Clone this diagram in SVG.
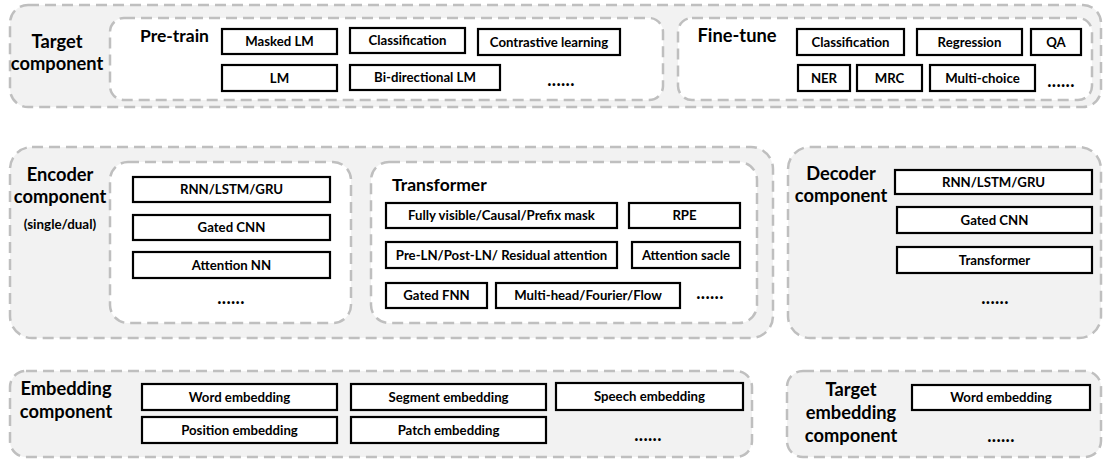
<svg xmlns="http://www.w3.org/2000/svg" width="1110" height="459" viewBox="0 0 1110 459">
<style>
.outer{fill:#f2f2f2;stroke:#bfbfbf;stroke-width:2.5;stroke-dasharray:11 6}
.inner{fill:#ffffff;stroke:#bfbfbf;stroke-width:2.5;stroke-dasharray:11 6}
.box{fill:#ffffff;stroke:#000000;stroke-width:2.2}
text{font-family:Lato,"Liberation Sans",sans-serif;font-weight:bold;fill:#000}
.t{font-size:18.3px;text-anchor:middle}
.tl{font-size:17.5px}
.b{font-size:13.2px;text-anchor:middle}
.d{font-size:18px;text-anchor:middle;letter-spacing:0.3px}
.s{font-size:13.4px;text-anchor:middle}
</style>
<g id="target-component">
<rect class="outer" x="10" y="5" width="1091" height="102" rx="18"/>
<text class="t" x="57" y="48">Target</text>
<text class="t" x="57" y="70">component</text>
</g>
<g id="pretrain">
<rect class="inner" x="110" y="18" width="553" height="82" rx="14"/>
<text class="tl" x="140" y="42">Pre-train</text>
<rect class="box" x="222" y="29" width="115" height="25"/><text class="b" x="279.5" y="46">Masked LM</text>
<rect class="box" x="350" y="28" width="115" height="25"/><text class="b" x="407.5" y="45">Classification</text>
<rect class="box" x="478" y="29" width="142" height="26"/><text class="b" x="549" y="46.5">Contrastive learning</text>
<rect class="box" x="222" y="65" width="115" height="26"/><text class="b" x="279.5" y="82.5">LM</text>
<rect class="box" x="350" y="65" width="150" height="25"/><text class="b" x="425" y="82">Bi-directional LM</text>
<text class="d" x="561" y="86">......</text>
</g>
<g id="finetune">
<rect class="inner" x="678" y="18" width="414" height="82" rx="14"/>
<text class="t" x="737" y="42">Fine-tune</text>
<rect class="box" x="797" y="29" width="107" height="26"/><text class="b" x="850.5" y="46.5">Classification</text>
<rect class="box" x="917" y="29" width="105" height="26"/><text class="b" x="969.5" y="46.5">Regression</text>
<rect class="box" x="1031" y="29" width="50" height="26"/><text class="b" x="1056" y="46.5">QA</text>
<rect class="box" x="798" y="65" width="52" height="26"/><text class="b" x="824" y="82.5">NER</text>
<rect class="box" x="857" y="65" width="65" height="26"/><text class="b" x="889.5" y="82.5">MRC</text>
<rect class="box" x="930" y="65" width="105" height="26"/><text class="b" x="982.5" y="82.5">Multi-choice</text>
<text class="d" x="1061" y="87">......</text>
</g>
<g id="encoder-component">
<rect class="outer" x="10" y="147" width="763" height="191" rx="22"/>
<text class="t" x="60" y="181">Encoder</text>
<text class="t" x="60" y="203">component</text>
<text class="s" x="60" y="229">(single/dual)</text>
</g>
<g id="encoder-basic">
<rect class="inner" x="110" y="162" width="241" height="161" rx="18"/>
<rect class="box" x="133" y="177" width="197" height="25"/><text class="b" x="231.5" y="194">RNN/LSTM/GRU</text>
<rect class="box" x="133" y="215" width="197" height="25"/><text class="b" x="231.5" y="232">Gated CNN</text>
<rect class="box" x="133" y="252" width="197" height="26"/><text class="b" x="231.5" y="269.5">Attention NN</text>
<text class="d" x="231" y="304">......</text>
</g>
<g id="transformer">
<rect class="inner" x="371" y="162" width="386" height="161" rx="18"/>
<text class="tl" x="392" y="191">Transformer</text>
<rect class="box" x="386" y="203" width="231" height="25"/><text class="b" x="501.5" y="220">Fully visible/Causal/Prefix mask</text>
<rect class="box" x="629" y="203" width="111" height="25"/><text class="b" x="684.5" y="220">RPE</text>
<rect class="box" x="386" y="242" width="231" height="26"/><text class="b" x="501.5" y="259.5">Pre-LN/Post-LN/ Residual attention</text>
<rect class="box" x="632" y="242" width="108" height="26"/><text class="b" x="686" y="259.5">Attention sacle</text>
<rect class="box" x="386" y="283" width="101" height="25"/><text class="b" x="436.5" y="300">Gated FNN</text>
<rect class="box" x="496" y="283" width="184" height="25"/><text class="b" x="588" y="300">Multi-head/Fourier/Flow</text>
<text class="d" x="710" y="299">......</text>
</g>
<g id="decoder-component">
<rect class="outer" x="788" y="147" width="313" height="191" rx="22"/>
<text class="t" x="841" y="180">Decoder</text>
<text class="t" x="841" y="202">component</text>
<rect class="box" x="895" y="170" width="197" height="24"/><text class="b" x="993.5" y="186.5">RNN/LSTM/GRU</text>
<rect class="box" x="897" y="207" width="195" height="26"/><text class="b" x="994.5" y="224.5">Gated CNN</text>
<rect class="box" x="897" y="247" width="195" height="26"/><text class="b" x="994.5" y="264.5">Transformer</text>
<text class="d" x="995" y="304">......</text>
</g>
<g id="embedding-component">
<rect class="outer" x="10" y="371" width="742" height="86" rx="16"/>
<text class="t" x="66" y="395">Embedding</text>
<text class="t" x="66" y="418">component</text>
<rect class="box" x="142" y="384" width="195" height="26"/><text class="b" x="239.5" y="401.5">Word embedding</text>
<rect class="box" x="142" y="417" width="195" height="26"/><text class="b" x="239.5" y="434.5">Position embedding</text>
<rect class="box" x="351" y="384" width="195" height="26"/><text class="b" x="448.5" y="401.5">Segment embedding</text>
<rect class="box" x="351" y="417" width="195" height="26"/><text class="b" x="448.5" y="434.5">Patch embedding</text>
<rect class="box" x="556" y="383" width="187" height="27"/><text class="b" x="649.5" y="401">Speech embedding</text>
<text class="d" x="648" y="441">......</text>
</g>
<g id="target-embedding-component">
<rect class="outer" x="787" y="371" width="314" height="86" rx="16"/>
<text class="t" x="851" y="396">Target</text>
<text class="t" x="851" y="419">embedding</text>
<text class="t" x="851" y="442">component</text>
<rect class="box" x="912" y="385" width="178" height="25"/><text class="b" x="1001" y="402">Word embedding</text>
<text class="d" x="1001" y="442">......</text>
</g>
<g id="connectors"></g>
</svg>
